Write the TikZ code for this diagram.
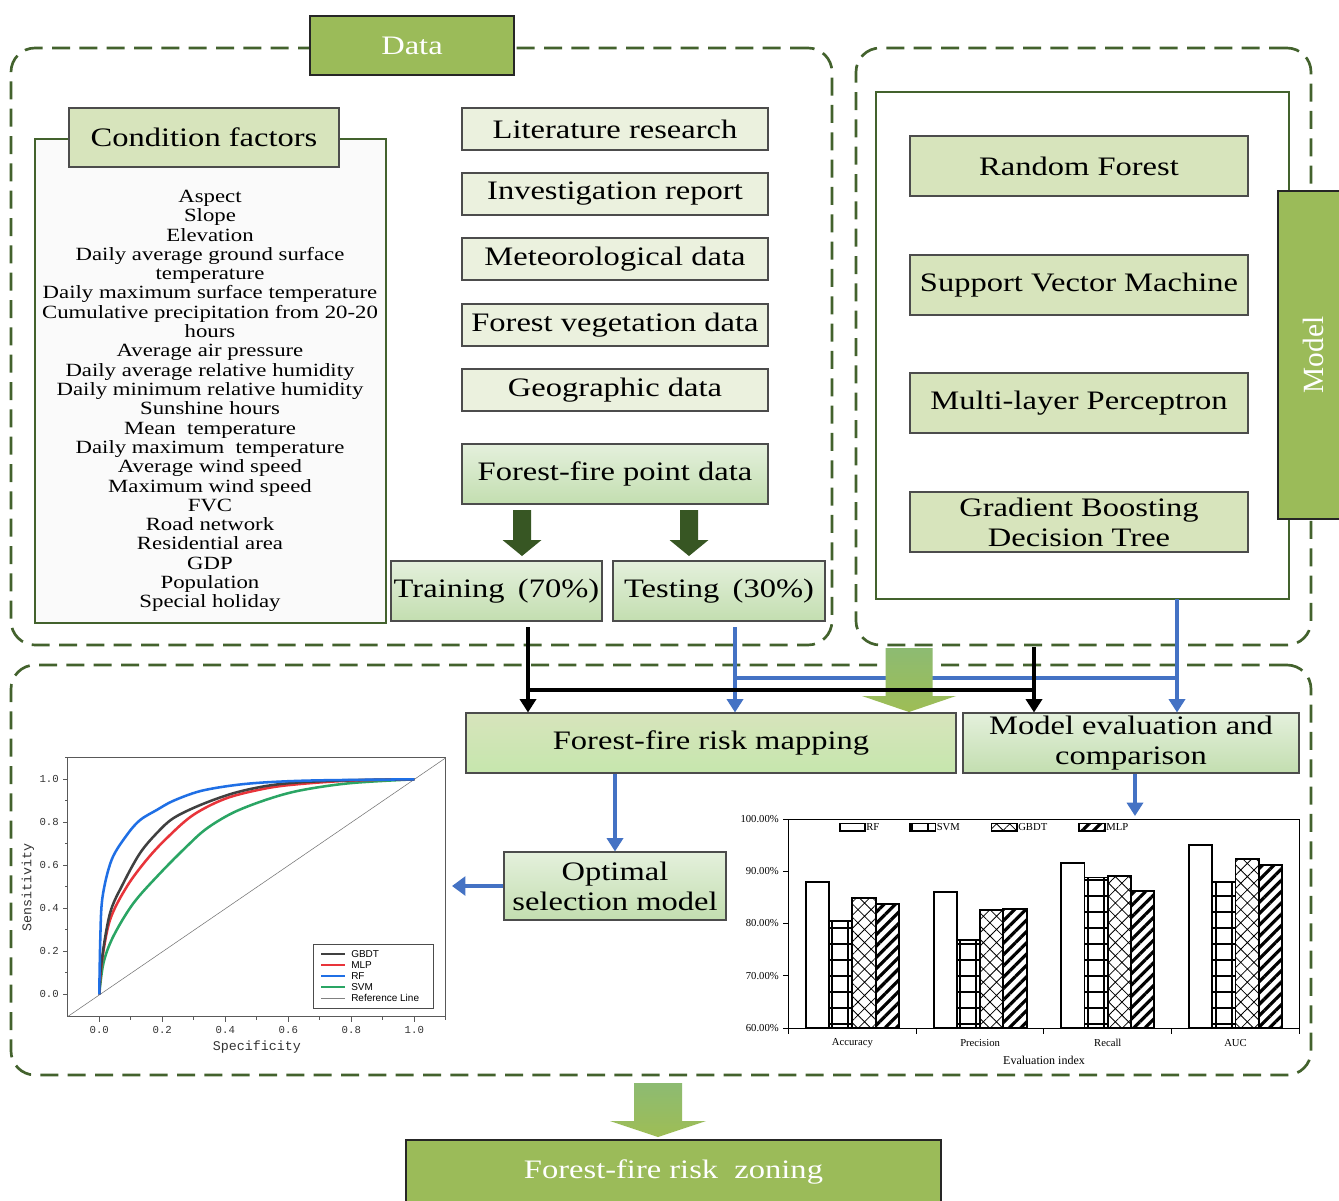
\documentclass[tikz,border=0pt]{standalone}
\usepackage{fontspec}
\setmainfont{Liberation Serif}
\newfontfamily\pala{Liberation Serif}[FakeStretch=1.22]
\newfontfamily\monof{Liberation Mono}
\newfontfamily\sansf{Liberation Sans}
\usetikzlibrary{arrows.meta,patterns.meta,calc}
\definecolor{myolive}{HTML}{9BBB59}
\definecolor{lolive}{HTML}{D7E4BC}
\definecolor{vlolive}{HTML}{EBF1DE}
\definecolor{dashg}{HTML}{43622D}
\definecolor{dkarrow}{HTML}{375623}
\definecolor{blueline}{HTML}{4472C4}
\definecolor{gtop}{HTML}{E4F0DC}
\definecolor{gbot}{HTML}{C3DEB0}
\definecolor{bigtop}{HTML}{8DBB72}
\definecolor{bigbot}{HTML}{9EBD55}
\definecolor{gbdtc}{HTML}{404040}
\definecolor{mlpc}{HTML}{E8343A}
\definecolor{rfc}{HTML}{1F6FE5}
\definecolor{svmc}{HTML}{2AA564}
\tikzset{
  every node/.style={inner sep=0pt},
  pbox/.style n args={4}{minimum width={(#3-#1)*0.75pt}, minimum height={(#4-#2)*0.75pt}, at={({(#1+#3)/2},{(#2+#4)/2})}},
  dashbox/.style={draw=dashg, line width=2pt, dash pattern=on 13.5pt off 7pt, rounded corners=18pt},
  headbox/.style={draw=black!85, fill=myolive, line width=0.8pt, text=white, font=\pala\fontsize{20}{22}\selectfont},
  srcbox/.style={draw=black!70, fill=vlolive, line width=0.8pt, font=\pala\fontsize{20}{22}\selectfont},
  modbox/.style={draw=black!70, fill=lolive, line width=0.8pt, font=\pala\fontsize{20}{22.5}\selectfont, align=center},
  gradbox/.style={draw=black!70, line width=0.8pt, top color=gtop, bottom color=gbot, font=\pala\fontsize{20}{22.5}\selectfont, align=center},
  blkline/.style={draw=black, line width=3pt},
  blk/.style={blkline, -{Triangle[width=12pt,length=10pt]}},
  bluline/.style={draw=blueline, line width=2.8pt},
  blu/.style={bluline, -{Triangle[width=12pt,length=10pt]}},
  rocaxis/.style={draw=black!65, line width=0.8pt},
  roccurve/.style={line width=1.9pt, line join=round},
  ticklab/.style={font=\monof\fontsize{8}{9}\selectfont, text=black!80},
  barline/.style={draw=black, line width=1.4pt},
  barfont/.style={font=\fontsize{8}{9}\selectfont},
  svmpat/.style={pattern={Hatch[angle=0,distance=12pt,line width=0.9pt]}},
  gbpat/.style={pattern={Hatch[angle=45,distance=7pt,line width=0.6pt]}},
  mlppat/.style={pattern={Lines[angle=45,distance=6pt,line width=2.4pt]}}
}
\begin{document}
\begin{tikzpicture}[x=0.75pt,y=-0.75pt]
\useasboundingbox (0,0) rectangle (1339,1200);
\fill[white] (0,0) rectangle (1339,1200);

% ---------- dashed frames ----------
\node[dashbox, pbox={11}{48}{832}{645}] (databox) {};
\node[dashbox, pbox={856}{48}{1311}{645}] (modelbox) {};
\node[dashbox, pbox={11}{665}{1311}{1075}] (resultbox) {};

% ---------- Data part ----------
\node[headbox, pbox={310}{16}{514}{75}] (data) {Data};

\node[draw=dashg, fill=black!2, line width=0.9pt, pbox={35}{139}{386}{623}] (condframe) {};
\node[modbox, pbox={69}{108}{339}{167}] (condhead) {Condition factors};
\node[align=center, font=\pala\fontsize{14}{14.48}\selectfont] (factors) at (210,401) {Aspect\\Slope\\Elevation\\Daily average ground surface\\temperature\\Daily maximum surface temperature\\Cumulative precipitation from 20-20\\hours\\Average air pressure\\Daily average relative humidity\\Daily minimum relative humidity\\Sunshine hours\\Mean\ \ temperature\\Daily maximum\ \ temperature\\Average wind speed\\Maximum wind speed\\FVC\\Road network\\Residential area\\GDP\\Population\\Special holiday};

\node[srcbox, pbox={462}{108}{768}{150}] (lit) {Literature research};
\node[srcbox, pbox={462}{173}{768}{215}] (inv) {Investigation report};
\node[srcbox, pbox={462}{238}{768}{280}] (met) {Meteorological data};
\node[srcbox, pbox={462}{304}{768}{346}] (veg) {Forest vegetation data};
\node[srcbox, pbox={462}{369}{768}{411}] (geo) {Geographic data};
\node[gradbox, pbox={462}{444}{768}{504}] (ffp) {Forest-fire point data};

\node[gradbox, pbox={391}{561}{602}{621}] (train) {Training\enspace(70\%)};
\node[gradbox, pbox={613}{561}{825}{621}] (test) {Testing\enspace(30\%)};

% dark green block arrows
\fill[dkarrow] (522,510) ++(-9,0) -- ++(18,0) -- ++(0,30) -- ++(10.5,0) -- ++(-19.5,16) -- ++(-19.5,-16) -- ++(10.5,0) -- cycle;
\fill[dkarrow] (689,510) ++(-9,0) -- ++(18,0) -- ++(0,30) -- ++(10.5,0) -- ++(-19.5,16) -- ++(-19.5,-16) -- ++(10.5,0) -- cycle;

% ---------- Model part ----------
\node[draw=dashg, fill=white, line width=0.9pt, pbox={876}{92}{1289}{599}] (inner) {};
\node[modbox, pbox={910}{136}{1248}{196}] (rf) {Random Forest};
\node[modbox, pbox={910}{255}{1248}{315}] (svm) {Support Vector Machine};
\node[modbox, pbox={910}{373}{1248}{433}] (mlp) {Multi-layer Perceptron};
\node[modbox, pbox={910}{492}{1248}{552}] (gbdt) {Gradient Boosting\\Decision Tree};
\node[headbox, pbox={1278}{191}{1345}{519}] (modlab) {};
\node[rotate=90, text=white, font=\fontsize{22}{24}\selectfont] (modtxt) at (1313,355) {Model};

% ---------- result nodes ----------
\node[modbox, pbox={466}{713}{956}{773}, top color=lolive, bottom color=lolive!92!green] (map) {Forest-fire risk mapping};
\node[gradbox, pbox={963}{713}{1299}{773}] (eval) {Model evaluation and\\comparison};
\node[gradbox, pbox={504}{852}{726}{920}] (opt) {Optimal\\selection model};
\node[headbox, pbox={406}{1140}{941}{1204}] (zoning) {\raisebox{-3pt}{Forest-fire risk\ \ zoning}};

% ---------- connectors ----------
\coordinate (trout) at (528,627);
\coordinate (teout) at (735,627);
\coordinate (blkL) at (528,690);
\coordinate (blkR) at (1034,690);
\coordinate (blkTop) at (1034,647);
\coordinate (bluL) at (735,678);
\coordinate (bluR) at (1177,678);
\coordinate (modout) at (1177,599);
\coordinate (rocin) at (452,886);
\coordinate (barin) at (1135,816);

\draw[bluline] (bluL) -- (bluR);
\draw[blu] (teout) -- (teout |- map.north);
\draw[blu] (modout) -- (modout |- eval.north);
% big green arrow (middle)
\shade[top color=bigtop, bottom color=bigbot] (909,648) ++(-23.5,0) -- ++(47,0) -- ++(0,48) -- ++(23.5,0) -- ++(-47,16) -- ++(-47,-16) -- ++(23.5,0) -- cycle;
\draw[blkline] (blkL) -- (blkR);
\draw[blk] (trout) -- (trout |- map.north);
\draw[blk] (blkTop) -- (blkTop |- eval.north);

\draw[blu] (opt.north |- map.south) -- (opt.north);
\draw[bluline, line width=3.5pt, -{Triangle[width=14pt,length=10pt]}] (opt.west) -- (rocin);
\draw[blu] (barin |- eval.south) -- (barin);

% big green arrow (bottom)
\shade[top color=bigtop, bottom color=bigbot] (658,1083) ++(-24,0) -- ++(48,0) -- ++(0,38) -- ++(24,0) -- ++(-48,16) -- ++(-48,-16) -- ++(24,0) -- cycle;

% ---------- ROC chart ----------
\draw[rocaxis] (67.8,757.8) rectangle (445.8,1016.5);
\foreach \k/\t in {0/0.0,1/0.2,2/0.4,3/0.6,4/0.8,5/1.0}{
  \pgfmathsetmacro\xx{99.3+63*\k}
  \pgfmathsetmacro\yy{994.3-43*\k}
  \draw[rocaxis] (\xx,1016.5) -- ++(0,5);
  \draw[rocaxis] (\xx+31.5,1016.5) -- ++(0,3);
  \draw[rocaxis] (67.8,\yy) -- ++(-5,0);
  \draw[rocaxis] (67.8,\yy-21.5) -- ++(-3,0);
  \node[ticklab] (xt\k) at (\xx,1030) {\t};
  \node[ticklab, anchor=east] (yt\k) at (59,\yy) {\t};
}
\node[font=\monof\fontsize{10}{11}\selectfont, text=black!80] (xlab) at (257,1047) {Specificity};
\node[font=\monof\fontsize{10}{11}\selectfont, text=black!80, rotate=90] (ylab) at (28,887) {Sensitivity};
\draw[black!55, line width=0.4pt] (67.8,1016.5) -- (445.8,757.8);
\begin{scope}[shift={(99.3,994.3)}, xscale=315, yscale=-215]
  \draw[roccurve, svmc] plot[smooth, tension=0.55] coordinates {(0,0) (0.013,0.144) (0.044,0.268) (0.108,0.423) (0.193,0.563) (0.277,0.687) (0.34,0.77) (0.425,0.845) (0.53,0.905) (0.637,0.948) (0.796,0.982) (1,1)};
  \draw[roccurve, mlpc] plot[smooth, tension=0.55] coordinates {(0,0) (0.008,0.15) (0.034,0.346) (0.087,0.5) (0.15,0.625) (0.214,0.726) (0.298,0.834) (0.404,0.912) (0.53,0.958) (0.637,0.978) (0.8,0.994) (1,1)};
  \draw[roccurve, gbdtc] plot[smooth, tension=0.55] coordinates {(0,0) (0.007,0.15) (0.034,0.377) (0.076,0.516) (0.129,0.656) (0.182,0.749) (0.235,0.819) (0.32,0.88) (0.425,0.935) (0.53,0.969) (0.637,0.986) (0.8,0.996) (1,1)};
  \draw[roccurve, rfc] plot[smooth, tension=0.55] coordinates {(0,0) (0.003,0.25) (0.01,0.45) (0.039,0.625) (0.087,0.74) (0.129,0.81) (0.182,0.857) (0.235,0.9) (0.32,0.945) (0.425,0.972) (0.53,0.986) (0.69,0.995) (1,1)};
\end{scope}
\node[draw=black!70, fill=white, line width=0.6pt, pbox={313}{944}{433}{1008}] (roclegend) {};
\foreach \c/\t/\yy/\w [count=\j] in {gbdtc/GBDT/954/1.6pt, mlpc/MLP/965/1.6pt, rfc/RF/976/0.9pt, svmc/SVM/987/1.6pt, black!50/Reference Line/998/0.4pt}{
  \draw[\c, line width=\w] (321,\yy) -- (345,\yy);
  \node[anchor=west, font=\sansf\fontsize{7.5}{8}\selectfont] (lg\j) at (351,\yy) {\t};
}

% ---------- bar chart ----------
\draw[black, line width=0.7pt] (788.5,819) rectangle (1299,1028);
\foreach \v in {60,70,80,90,100}{
  \pgfmathsetmacro\yy{1028-(\v-60)*5.225}
  \draw[black, line width=0.7pt] (783,\yy) -- (788.5,\yy);
  \node[barfont, anchor=east] (bl\v) at (779,\yy) {\v.00\%};
}
\foreach \k in {0,...,4}{
  \draw[black, line width=0.7pt] (788.5+127.7*\k,1028) -- ++(0,6);
}
\foreach \rv/\sv/\gv/\mv/\lab [count=\i from 0] in {88/80.5/84.8/83.7/Accuracy, 86/76.8/82.6/82.8/Precision, 91.5/88.8/89.1/86.2/Recall, 95.1/88/92.3/91.2/AUC}{
  \pgfmathsetmacro\gx{788.5+127.7*\i+17.4}
  \draw[barline] (\gx,1028) rectangle ({\gx+23.25},{1028-(\rv-60)*5.225});
  \draw[barline, svmpat] ({\gx+23.25},1028) rectangle ({\gx+46.5},{1028-(\sv-60)*5.225});
  \draw[barline, gbpat] ({\gx+46.5},1028) rectangle ({\gx+69.75},{1028-(\gv-60)*5.225});
  \draw[barline, mlppat] ({\gx+69.75},1028) rectangle ({\gx+93},{1028-(\mv-60)*5.225});
  \node[barfont] (cat\i) at ({\gx+46.5},1043) {\lab};
}
\node[font=\fontsize{9}{10}\selectfont] (evalidx) at (1044,1060) {Evaluation index};
% legend
\draw[barline] (840,823.5) rectangle (865,831);
\node[barfont, anchor=west] (blg1) at (866,827.3) {RF};
\draw[barline, svmpat] (910,823.5) rectangle (935.5,831);
\node[barfont, anchor=west] (blg2) at (936.5,827.3) {SVM};
\draw[barline, gbpat] (991.5,823.5) rectangle (1017,831);
\node[barfont, anchor=west] (blg3) at (1018,827.3) {GBDT};
\draw[barline, mlppat] (1079,823.5) rectangle (1105,831);
\node[barfont, anchor=west] (blg4) at (1106,827.3) {MLP};
\end{tikzpicture}
\end{document}
